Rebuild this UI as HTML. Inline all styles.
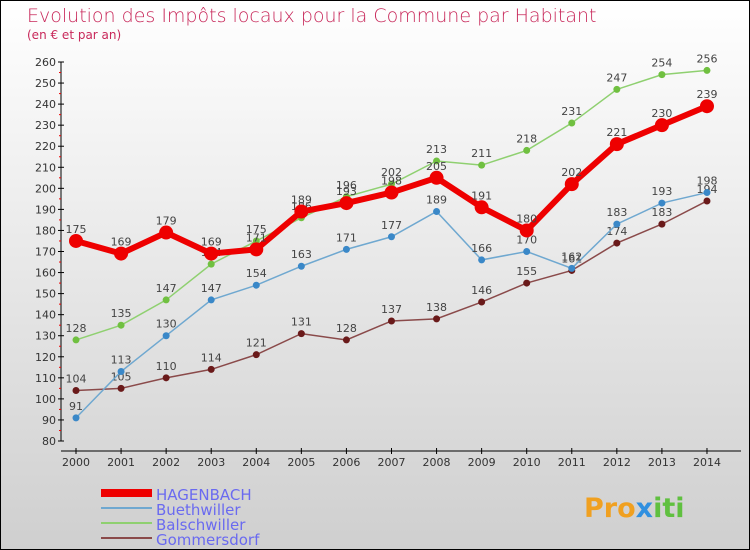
<!DOCTYPE html>
<html><head><meta charset="utf-8"><style>
body{margin:0}
#wrap{position:relative;width:748px;height:548px;border:1px solid #000;background:linear-gradient(#ffffff,#cfcfcf);font-family:"DejaVu Sans","Liberation Sans",sans-serif;overflow:hidden}
</style></head><body>
<div id="wrap">
<svg id="c" width="748" height="548" xmlns="http://www.w3.org/2000/svg">
<text x="26" y="21" font-size="19" fill="#c8285a" font-weight="300">Evolution des Impôts locaux pour la Commune par Habitant</text>
<text x="26" y="38" font-size="12" fill="#c8285a">(en € et par an)</text>
<g id="axes"></g><g id="series"></g>
<g>
<line x1="100" y1="492" x2="151" y2="492" stroke="#e00" stroke-width="8"/>
<text x="155" y="499" font-size="15" fill="#6a6af0">HAGENBACH</text>
<line x1="100" y1="507" x2="151" y2="507" stroke="#6fa8d0" stroke-width="2"/>
<text x="155" y="514" font-size="15" fill="#6a6af0">Buethwiller</text>
<line x1="100" y1="522" x2="151" y2="522" stroke="#8fd070" stroke-width="2"/>
<text x="155" y="529" font-size="15" fill="#6a6af0">Balschwiller</text>
<line x1="100" y1="537" x2="151" y2="537" stroke="#8a4a4a" stroke-width="2"/>
<text x="155" y="544" font-size="15" fill="#6a6af0">Gommersdorf</text>
</g>
<text x="583" y="516" font-size="27" font-weight="bold" fill="#f0a020">Pro<tspan fill="#3090e0">x</tspan><tspan fill="#60c040">iti</tspan></text>
</svg>
</div>
<script>
const years=[2000,2001,2002,2003,2004,2005,2006,2007,2008,2009,2010,2011,2012,2013,2014];
const hagenbach=[175,169,179,169,171,189,193,198,205,191,180,202,221,230,239];
const buethwiller=[91,113,130,147,154,163,171,177,189,166,170,162,183,193,198];
const balschwiller=[128,135,147,164,175,186,196,202,213,211,218,231,247,254,256];
const gommersdorf=[104,105,110,114,121,131,128,137,138,146,155,161,174,183,194];
const yTicks=[80,90,100,110,120,130,140,150,160,170,180,190,200,210,220,230,240,250,260];
const NS='http://www.w3.org/2000/svg';
const X=i=>75+i*45.07, Y=v=>440-(v-80)*1.0526*20/20*20/20*1.0;
function Yp(v){return 440-(v-80)*(379/180);}
function mk(t,a,p){const e=document.createElementNS(NS,t);for(const k in a)e.setAttribute(k,a[k]);p.appendChild(e);return e;}
const ax=document.getElementById('axes');
let l=mk('line',{x1:60,y1:Yp(260),x2:60,y2:Yp(80),stroke:'#000'},ax);


yTicks.forEach(v=>{
 mk('line',{x1:57,y1:Yp(v),x2:63,y2:Yp(v),stroke:'#000'},ax);
 if(v<260)mk('line',{x1:58,y1:Yp(v+5),x2:60,y2:Yp(v+5),stroke:'#e00'},ax);
 const t=mk('text',{x:55,y:Yp(v)+4,'font-size':11,fill:'#333','text-anchor':'end'},ax);t.textContent=v;
 
 
});
l=mk('line',{x1:60,y1:450,x2:740,y2:450,stroke:'#000'},ax);


years.forEach((y,i)=>{
 mk('line',{x1:X(i),y1:447,x2:X(i),y2:453,stroke:'#000'},ax);
 const t=mk('text',{x:X(i),y:465,'font-size':11,fill:'#333','text-anchor':'middle'},ax);t.textContent=y;
 
 
});
const sg=document.getElementById('series');
function draw(name,data,color,dot,w,r){
 const g=mk('g',{},sg);
 
 
 const p=mk('polyline',{points:data.map((v,i)=>X(i)+','+Yp(v)).join(' '),fill:'none',stroke:color,'stroke-width':w},g);
 data.forEach((v,i)=>{
  const c=mk('circle',{cx:X(i),cy:Yp(v),r:r,fill:dot},g);
  
  
  const t=mk('text',{x:X(i),y:Yp(v)-8,'font-size':11,fill:'#444','text-anchor':'middle'},g);t.textContent=v;
  
  
 });
}
draw('gommersdorf',gommersdorf,'#8a4a4a','#6a1a1a',1.5,3.5);
draw('buethwiller',buethwiller,'#6fa8d0','#3a88c8',1.5,3.5);
draw('balschwiller',balschwiller,'#8fd070','#70c040',1.5,3.5);
draw('hagenbach',hagenbach,'#e00','#e00',6,7);
</script>
</body></html>
